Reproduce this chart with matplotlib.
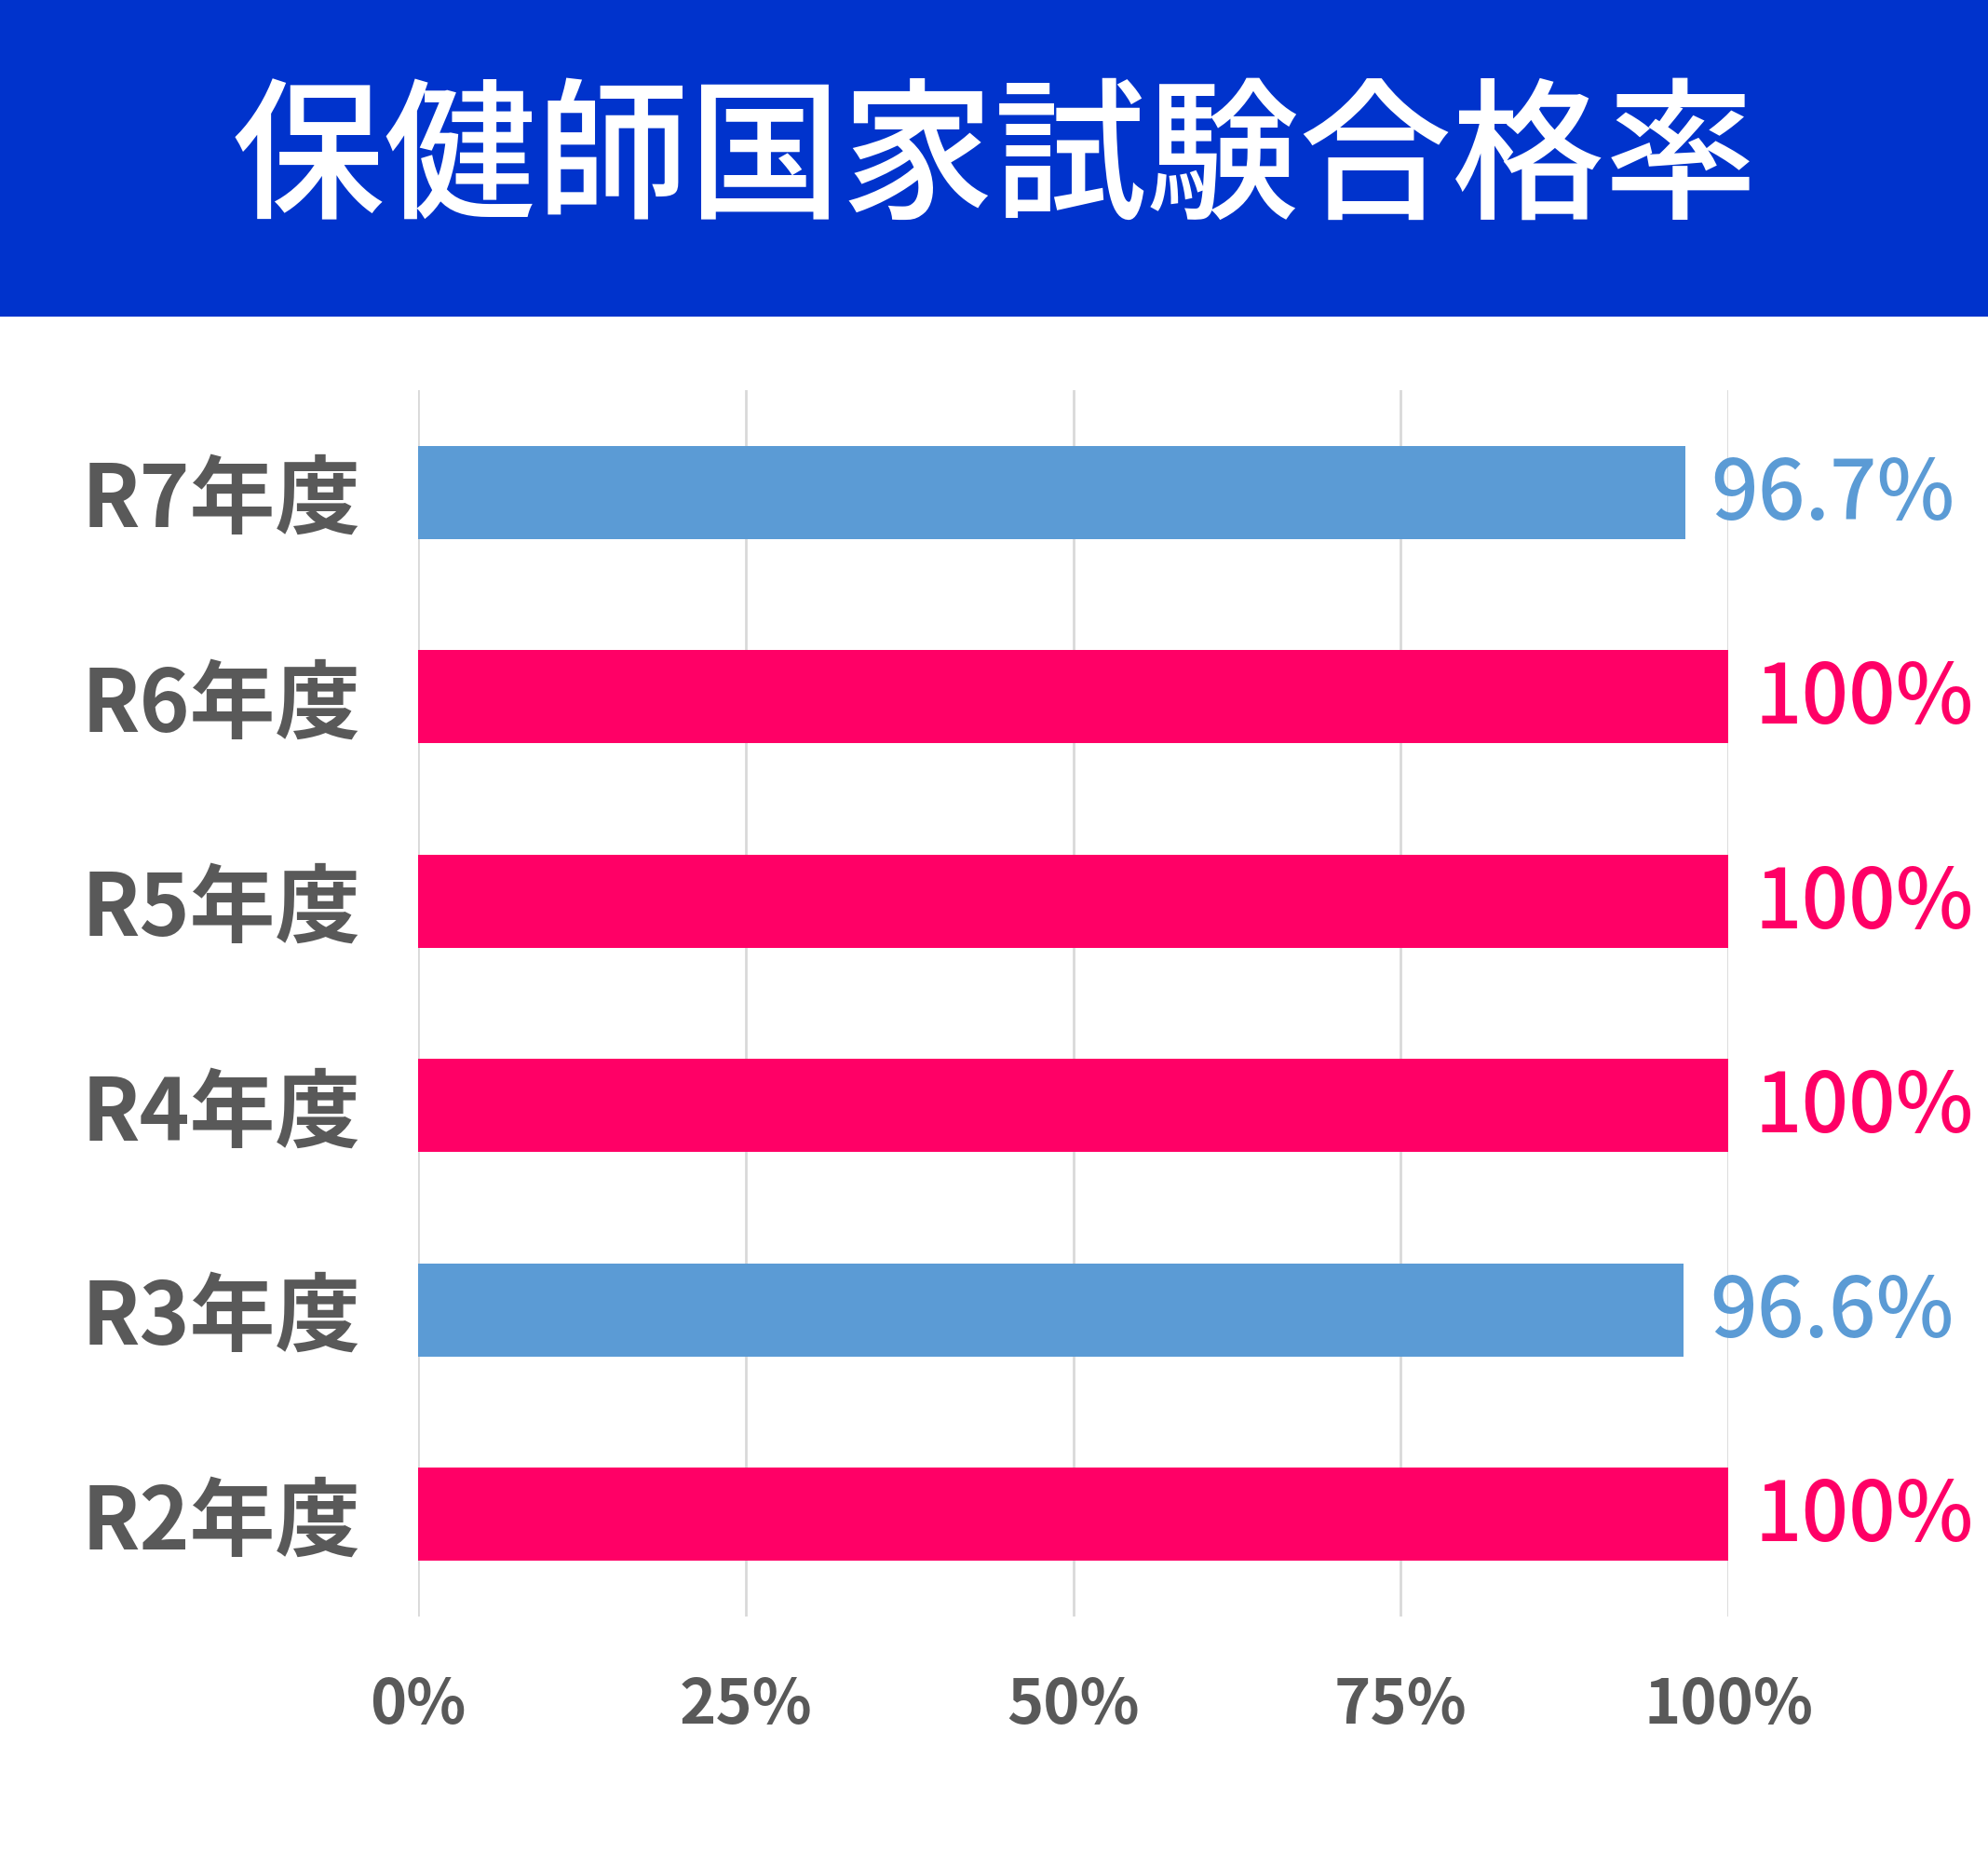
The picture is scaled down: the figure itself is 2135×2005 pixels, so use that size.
import matplotlib
matplotlib.use("Agg")
import matplotlib.pyplot as plt
from matplotlib.patches import Rectangle

plt.rcParams['font.family'] = ['Noto Sans CJK JP', 'DejaVu Sans']

title = "保健師国家試験合格率"
categories = ["R7年度", "R6年度", "R5年度", "R4年度", "R3年度", "R2年度"]
values = [96.7, 100, 100, 100, 96.6, 100]
value_labels = ["96.7%", "100%", "100%", "100%", "96.6%", "100%"]
xticks = [0, 25, 50, 75, 100]
xtick_labels = ["0%", "25%", "50%", "75%", "100%"]

BLUE = "#5B9BD5"
PINK = "#FF0066"
GRAY = "#595959"

fig = plt.figure(figsize=(21.35, 20.05), dpi=100)
fig.patches.append(Rectangle((0, 1 - 340 / 2005), 1, 340 / 2005, transform=fig.transFigure,
                             facecolor="#0033CC", edgecolor="none", zorder=0))
fig.text(0.5, 1 - 174 / 2005, title, ha="center", va="center", color="white",
         fontsize=118, fontweight="medium")

ax = fig.add_axes([449 / 2135, 1 - 1736 / 2005, (1856 - 449) / 2135, (1736 - 419) / 2005])
colors = [BLUE if v < 100 else PINK for v in values]
ypos = list(range(len(categories)))
ax.barh(ypos, values, height=0.455, color=colors, zorder=2)
ax.set_ylim(len(categories) - 0.5, -0.5)
ax.set_xlim(0, 100)
ax.set_yticks(ypos)
ax.set_yticklabels(categories, fontsize=66, fontweight="bold", color=GRAY)
ax.tick_params(axis="y", length=0, pad=44)
ax.set_xticks(xticks)
ax.set_xticklabels(xtick_labels, fontsize=48, fontweight="bold", color=GRAY)
ax.tick_params(axis="x", length=0, pad=45)
ax.grid(axis="x", color="#D9D9D9", linewidth=2, zorder=0)
for s in ax.spines.values():
    s.set_visible(False)

for y, v, lab, c in zip(ypos, values, value_labels, colors):
    ax.annotate(lab, (v, y), xytext=(28, -4), textcoords="offset pixels",
                ha="left", va="center", fontsize=64, color=c, fontweight="medium")

fig.savefig("out.png", dpi=100)
